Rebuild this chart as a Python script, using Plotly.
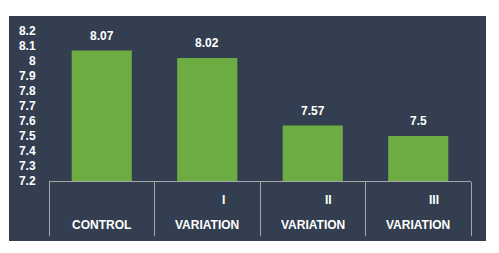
import plotly.graph_objects as go

categories = ["CONTROL", "VARIATION I", "VARIATION II", "VARIATION III"]
values = [8.07, 8.02, 7.57, 7.5]
label_top = ["", "I", "II", "III"]
label_bottom = ["CONTROL", "VARIATION", "VARIATION", "VARIATION"]
y_ticks = [7.2, 7.3, 7.4, 7.5, 7.6, 7.7, 7.8, 7.9, 8.0, 8.1, 8.2]
y_tick_labels = ["7.2", "7.3", "7.4", "7.5", "7.6", "7.7", "7.8", "7.9", "8", "8.1", "8.2"]

BG = "#333f50"
GREEN = "#6dab43"
LINE = "#a6a6a6"
FONT = "Liberation Sans"

fig = go.Figure()
fig.add_trace(go.Bar(
    x=categories, y=values,
    marker=dict(color=GREEN, line=dict(width=0)),
    hoverinfo="skip",
))

annotations = []
for c, v in zip(categories, values):
    annotations.append(dict(x=c, y=v, xref="x", yref="y", text=f"<b>{v:g}</b>",
                            showarrow=False, yanchor="middle", yshift=15,
                            font=dict(family=FONT, size=12, color="white")))
for c, t, b in zip(categories, label_top, label_bottom):
    if t:
        annotations.append(dict(x=c, y=-0.127, xref="x", yref="paper", text=f"<b>{t}</b>",
                                showarrow=False, yanchor="middle", xshift=16,
                                font=dict(family=FONT, size=12, color="white")))
    annotations.append(dict(x=c, y=-0.293, xref="x", yref="paper", text=f"<b>{b}</b>",
                            showarrow=False, yanchor="middle",
                            font=dict(family=FONT, size=12, color="white")))

fig.update_layout(
    width=491, height=245,
    margin=dict(l=41, r=28, t=23, b=72),
    paper_bgcolor="white",
    plot_bgcolor="rgba(0,0,0,0)",
    bargap=0.43,
    showlegend=False,
    annotations=annotations,
    shapes=[dict(type="rect", xref="paper", yref="paper",
                 x0=-0.0948, x1=1.0355, y0=-0.4, y1=1.1,
                 fillcolor=BG, line=dict(width=0), layer="below")],
    xaxis=dict(
        type="category", range=[-0.5, 3.5], showgrid=False, zeroline=False,
        showline=True, linecolor=LINE, linewidth=1,
        ticks="outside", tickson="boundaries", ticklen=54, tickcolor=LINE, tickwidth=1,
        showticklabels=False, fixedrange=True,
    ),
    yaxis=dict(
        range=[7.2, 8.2], showgrid=False, zeroline=False, showline=False,
        tickvals=y_ticks, ticktext=[f"<b>{t}</b>" for t in y_tick_labels],
        ticks="outside", ticklen=10, tickcolor="rgba(0,0,0,0)",
        tickfont=dict(family=FONT, size=12, color="white"), fixedrange=True,
    ),
)

fig.write_html("out.html")
